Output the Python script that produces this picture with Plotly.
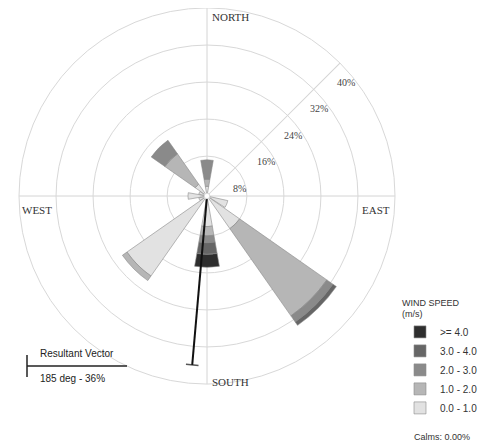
import math
import plotly.graph_objects as go

W, H = 493, 448
OFF = 8  # page body margin of the browser

# ---- data (percent of time) ----
directions = [0, 22.5, 45, 67.5, 90, 112.5, 135, 157.5,
              180, 202.5, 225, 247.5, 270, 292.5, 315, 337.5]
speed_classes = ["0.0 - 1.0", "1.0 - 2.0", "2.0 - 3.0", "3.0 - 4.0", ">= 4.0"]
#                N    NNE  NE   ENE  E    ESE  SE    SSE  S    SSW  SW    WSW  W    WNW  NW   NNW
spd_0_1 =      [1.5, 0,   0,   0,   0,   4.0, 8.0,  0,   6.0, 0,   20.5, 1.2, 3.5, 1.2, 2.5, 0]
spd_1_2 =      [1.5, 0,   0,   0,   0,   0,   23.0, 0,   2.0, 0,   1.2,  0,   0,   0,   8.0, 0]
spd_2_3 =      [4.2, 0,   0,   0,   0,   0,   1.6,  0,   1.5, 0,   0,    0,   0,   0,   3.6, 0]
spd_3_4 =      [0,   0,   0,   0,   0,   0,   0.9,  0,   2.5, 0,   0,    0,   0,   0,   0,   0]
spd_ge4 =      [0,   0,   0,   0,   0,   0,   0,    0,   2.8, 0,   0,    0,   0,   0,   0,   0]
class_colors = ["#e2e2e2", "#b6b6b6", "#8a8a8a", "#666666", "#2e2e2e"]

ring_values = [8, 16, 24, 32, 40]
resultant_dir = 185
resultant_pct = 36
calms_pct = 0.00

FW, FH = W - OFF, H - OFF

def px(x):
    return (x - OFF) / FW

def py(y):
    return 1 - (y - OFF) / FH

# polar placement in reference pixels
CX, CY, R = 207, 196, 188
RMAX = 40

fig = go.Figure()
for name, vals, col in zip(speed_classes,
                           [spd_0_1, spd_1_2, spd_2_3, spd_3_4, spd_ge4],
                           class_colors):
    fig.add_trace(go.Barpolar(
        r=vals, theta=directions, width=[20] * len(directions), name=name,
        marker=dict(color=col, line=dict(color="#8a8a8a", width=0.6)),
        hoverinfo="skip",
    ))

fig.add_trace(go.Scatterpolar(
    r=[0, resultant_pct], theta=[resultant_dir, resultant_dir],
    mode="lines+markers", showlegend=False,
    line=dict(color="#111111", width=2),
    marker=dict(symbol="line-ew", size=[0, 9], angle=resultant_dir - 180,
                line=dict(color="#111111", width=1.5)),
    hoverinfo="skip",
))

serif = "Liberation Serif, Times New Roman, serif"
sans = "Liberation Sans, Arial, sans-serif"

annotations = [
    dict(text="NORTH", x=px(210), y=py(17), xanchor="left", yanchor="middle",
         showarrow=False, font=dict(family=serif, size=11, color="#333")),
    dict(text="EAST", x=px(360), y=py(210), xanchor="left", yanchor="middle",
         showarrow=False, font=dict(family=serif, size=11, color="#333")),
    dict(text="WEST", x=px(20), y=py(210), xanchor="left", yanchor="middle",
         showarrow=False, font=dict(family=serif, size=11, color="#333")),
    dict(text="SOUTH", x=px(210), y=py(382), xanchor="left", yanchor="middle",
         showarrow=False, font=dict(family=serif, size=11, color="#333")),
    dict(text="Resultant Vector", x=px(38), y=py(353), xanchor="left", yanchor="middle",
         showarrow=False, font=dict(family=sans, size=10, color="#222")),
    dict(text=f"{resultant_dir} deg - {resultant_pct}%", x=px(38), y=py(378),
         xanchor="left", yanchor="middle",
         showarrow=False, font=dict(family=sans, size=10, color="#222")),
    dict(text=f"Calms: {calms_pct:.2f}%", x=px(412), y=py(437), xanchor="left",
         yanchor="middle", showarrow=False,
         font=dict(family=sans, size=9, color="#333")),
]
# ring labels placed just below-right of the NE radial line
s = R / RMAX
for v in ring_values:
    lx = CX + v * s * math.sin(math.radians(45)) + 6
    ly = CY - v * s * math.cos(math.radians(45)) + 19
    annotations.append(dict(text=f"{v}%", x=px(lx), y=py(ly), xanchor="center",
                            yanchor="middle", showarrow=False,
                            font=dict(family=serif, size=10, color="#444")))

fig.update_layout(
    width=FW, height=FH,
    margin=dict(l=0, r=0, t=0, b=0),
    paper_bgcolor="white", plot_bgcolor="white",
    polar=dict(
        domain=dict(x=[px(CX - R), px(CX + R)], y=[py(CY + R), py(CY - R)]),
        bgcolor="white",
        hole=0.015,
        barmode="stack",
        radialaxis=dict(
            range=[0, RMAX], tickvals=ring_values, showticklabels=False,
            angle=45, showline=True, linecolor="#d4d4d4",
            gridcolor="#d8d8d8", ticks="",
        ),
        angularaxis=dict(
            rotation=90, direction="clockwise",
            tickvals=[0, 90, 180, 270], showticklabels=False, ticks="",
            gridcolor="#d4d4d4", showline=True, linecolor="#d8d8d8",
        ),
    ),
    legend=dict(
        x=px(400), y=py(294), xanchor="left", yanchor="top",
        traceorder="reversed",
        title=dict(text="WIND SPEED<br>(m/s)", font=dict(family=sans, size=9, color="#333")),
        font=dict(family=sans, size=10, color="#333"),
        bgcolor="rgba(0,0,0,0)",
        itemwidth=30, tracegroupgap=0,
    ),
    annotations=annotations,
    shapes=[
        dict(type="line", xref="paper", yref="paper", x0=px(27), x1=px(127),
             y0=py(366), y1=py(366), line=dict(color="#222", width=1.5)),
        dict(type="line", xref="paper", yref="paper", x0=px(27), x1=px(27),
             y0=py(355), y1=py(377), line=dict(color="#222", width=1.5)),
    ],
)

fig.write_html("out.html")
